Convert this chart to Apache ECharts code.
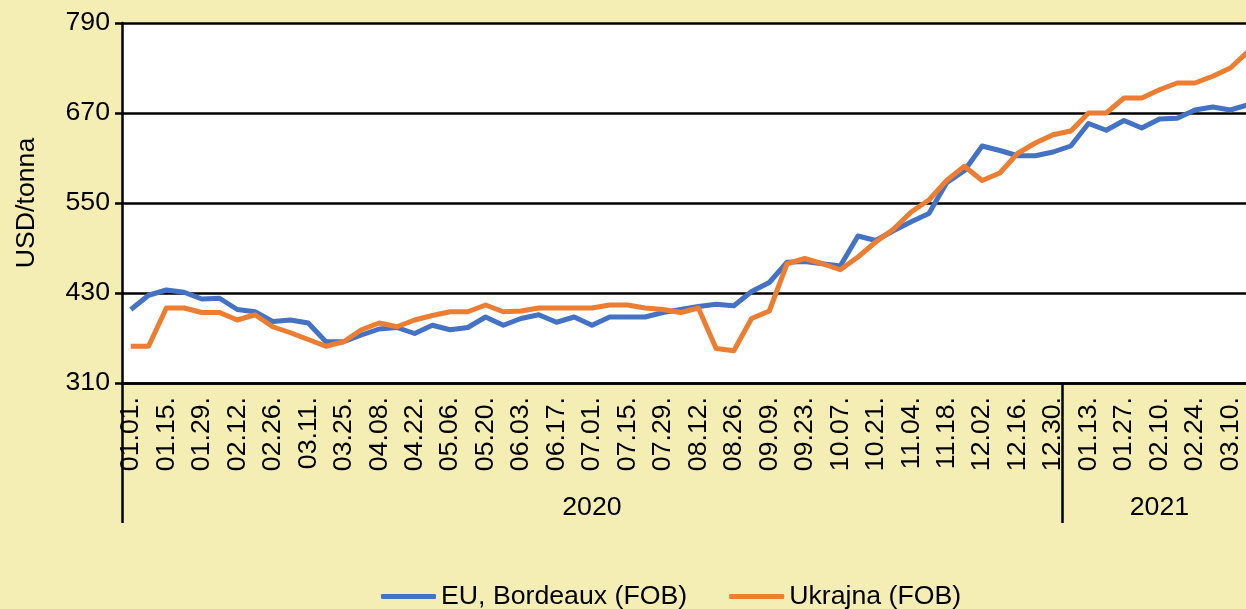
<!DOCTYPE html>
<html>
<head>
<meta charset="utf-8">
<script src="https://cdn.jsdelivr.net/npm/echarts@6/dist/echarts.min.js"></script>
<style>
  html, body { margin: 0; padding: 0; background: #F4EEB4; }
  #chart { width: 1246px; height: 609px; }
</style>
</head>
<body>
<div id="chart"></div>
<script>
  // weekly dates (first level of the category axis)
  var dates = [
    '01.01.', '01.08.', '01.15.', '01.22.', '01.29.', '02.05.', '02.12.', '02.19.', '02.26.',
    '03.04.', '03.11.', '03.18.', '03.25.', '04.01.', '04.08.', '04.15.', '04.22.', '04.29.',
    '05.06.', '05.13.', '05.20.', '05.27.', '06.03.', '06.10.', '06.17.', '06.24.', '07.01.',
    '07.08.', '07.15.', '07.22.', '07.29.', '08.05.', '08.12.', '08.19.', '08.26.', '09.02.',
    '09.09.', '09.16.', '09.23.', '09.30.', '10.07.', '10.14.', '10.21.', '10.28.', '11.04.',
    '11.11.', '11.18.', '11.25.', '12.02.', '12.09.', '12.16.', '12.23.', '12.30.',
    '01.06.', '01.13.', '01.20.', '01.27.', '02.03.', '02.10.', '02.17.', '02.24.', '03.03.',
    '03.10.', '03.17.'
  ];
  // second level: years and how many weeks each one has
  var years = ['2020', '2021'];
  var yearWeeks = [53, 11];

  var euBordeaux = [
    408, 427, 434, 431, 422, 423, 408, 405, 392, 394, 390, 365, 365, 374, 382, 384,
    376, 387, 381, 384, 398, 387, 396, 401, 391, 398, 387, 398, 398, 398, 404, 408,
    412, 415, 413, 432, 444, 471, 472, 469, 466, 506, 500, 513, 525, 536, 577, 593,
    626, 620, 613, 613, 618, 626, 656, 647, 660, 650, 662, 663, 674, 678, 674, 681
  ];
  var ukrajna = [
    359, 359, 410, 410, 404, 404, 394, 401, 385, 377, 368, 359, 365, 381, 390, 385,
    394, 400, 405, 405, 414, 405, 406, 410, 410, 410, 410, 414, 414, 410, 408, 404,
    410, 356, 353, 396, 406, 469, 476, 469, 461, 478, 498, 515, 538, 554, 580, 599,
    580, 590, 616, 630, 641, 646, 670, 670, 690, 690, 701, 710, 710, 719, 730, 752
  ];

  var yTicks = { min: 310, max: 790, step: 120 };

  // build year axis: one entry per week, separator at first week, label in middle
  var yearAxisData = [];
  var yearStarts = [];
  var yearMids = [];
  years.forEach(function (y, k) {
    yearStarts.push(yearAxisData.length);
    yearMids.push(yearAxisData.length + Math.floor(yearWeeks[k] / 2));
    for (var i = 0; i < yearWeeks[k]; i++) yearAxisData.push(y);
  });

  var font = 'Liberation Sans, Arial, sans-serif';
  var fs = 26.7;

  var myChart = echarts.init(document.getElementById('chart'));
  var option = {
    animation: false,
    backgroundColor: '#F4EEB4',
    color: ['#4472C4', '#ED7D31'],
    textStyle: { fontFamily: font, color: '#000' },
    grid: {
      left: 122, top: 23, right: -11, bottom: 226,
      show: true, backgroundColor: '#fff', borderWidth: 0,
      outerBoundsMode: 'none'
    },
    legend: {
      left: 381, top: 583, padding: 0,
      itemWidth: 55, itemHeight: 5, itemGap: 42,
      icon: 'roundRect',
      textStyle: { fontSize: fs, color: '#000', fontFamily: font }
    },
    xAxis: [{
      type: 'category',
      data: dates,
      boundaryGap: true,
      axisLine: { lineStyle: { color: '#000', width: 2.5 } },
      axisTick: { show: false },
      axisLabel: {
        interval: 1, rotate: 90, margin: 14,
        fontSize: fs, color: '#000', fontFamily: font
      }
    }, {
      type: 'category',
      data: yearAxisData,
      position: 'bottom',
      boundaryGap: true,
      axisLine: { show: false },
      axisTick: {
        show: true, inside: false, length: 140,
        interval: function (index) { return yearStarts.indexOf(index) >= 0; },
        lineStyle: { color: '#000', width: 2.5 }
      },
      axisLabel: {
        interval: function (index) { return yearMids.indexOf(index) >= 0; },
        margin: 111, fontSize: fs, color: '#000', fontFamily: font
      }
    }],
    yAxis: {
      type: 'value',
      min: yTicks.min, max: yTicks.max, interval: yTicks.step,
      name: 'USD/tonna',
      nameLocation: 'middle',
      nameRotate: 90,
      nameGap: 82,
      nameTextStyle: { fontSize: fs, color: '#000', fontFamily: font },
      axisLine: { show: true, lineStyle: { color: '#000', width: 2.5 } },
      axisTick: { show: true, length: 7, lineStyle: { color: '#000', width: 2.5 } },
      splitLine: { lineStyle: { color: '#000', width: 2.5 } },
      axisLabel: { margin: 12, fontSize: fs, color: '#000', fontFamily: font }
    },
    series: [{
      name: 'EU, Bordeaux (FOB)',
      type: 'line',
      data: euBordeaux,
      symbol: 'none',
      lineStyle: { width: 5, join: 'round' }
    }, {
      name: 'Ukrajna (FOB)',
      type: 'line',
      data: ukrajna,
      symbol: 'none',
      lineStyle: { width: 5, join: 'round' }
    }]
  };
  myChart.setOption(option);
</script>
</body>
</html>
